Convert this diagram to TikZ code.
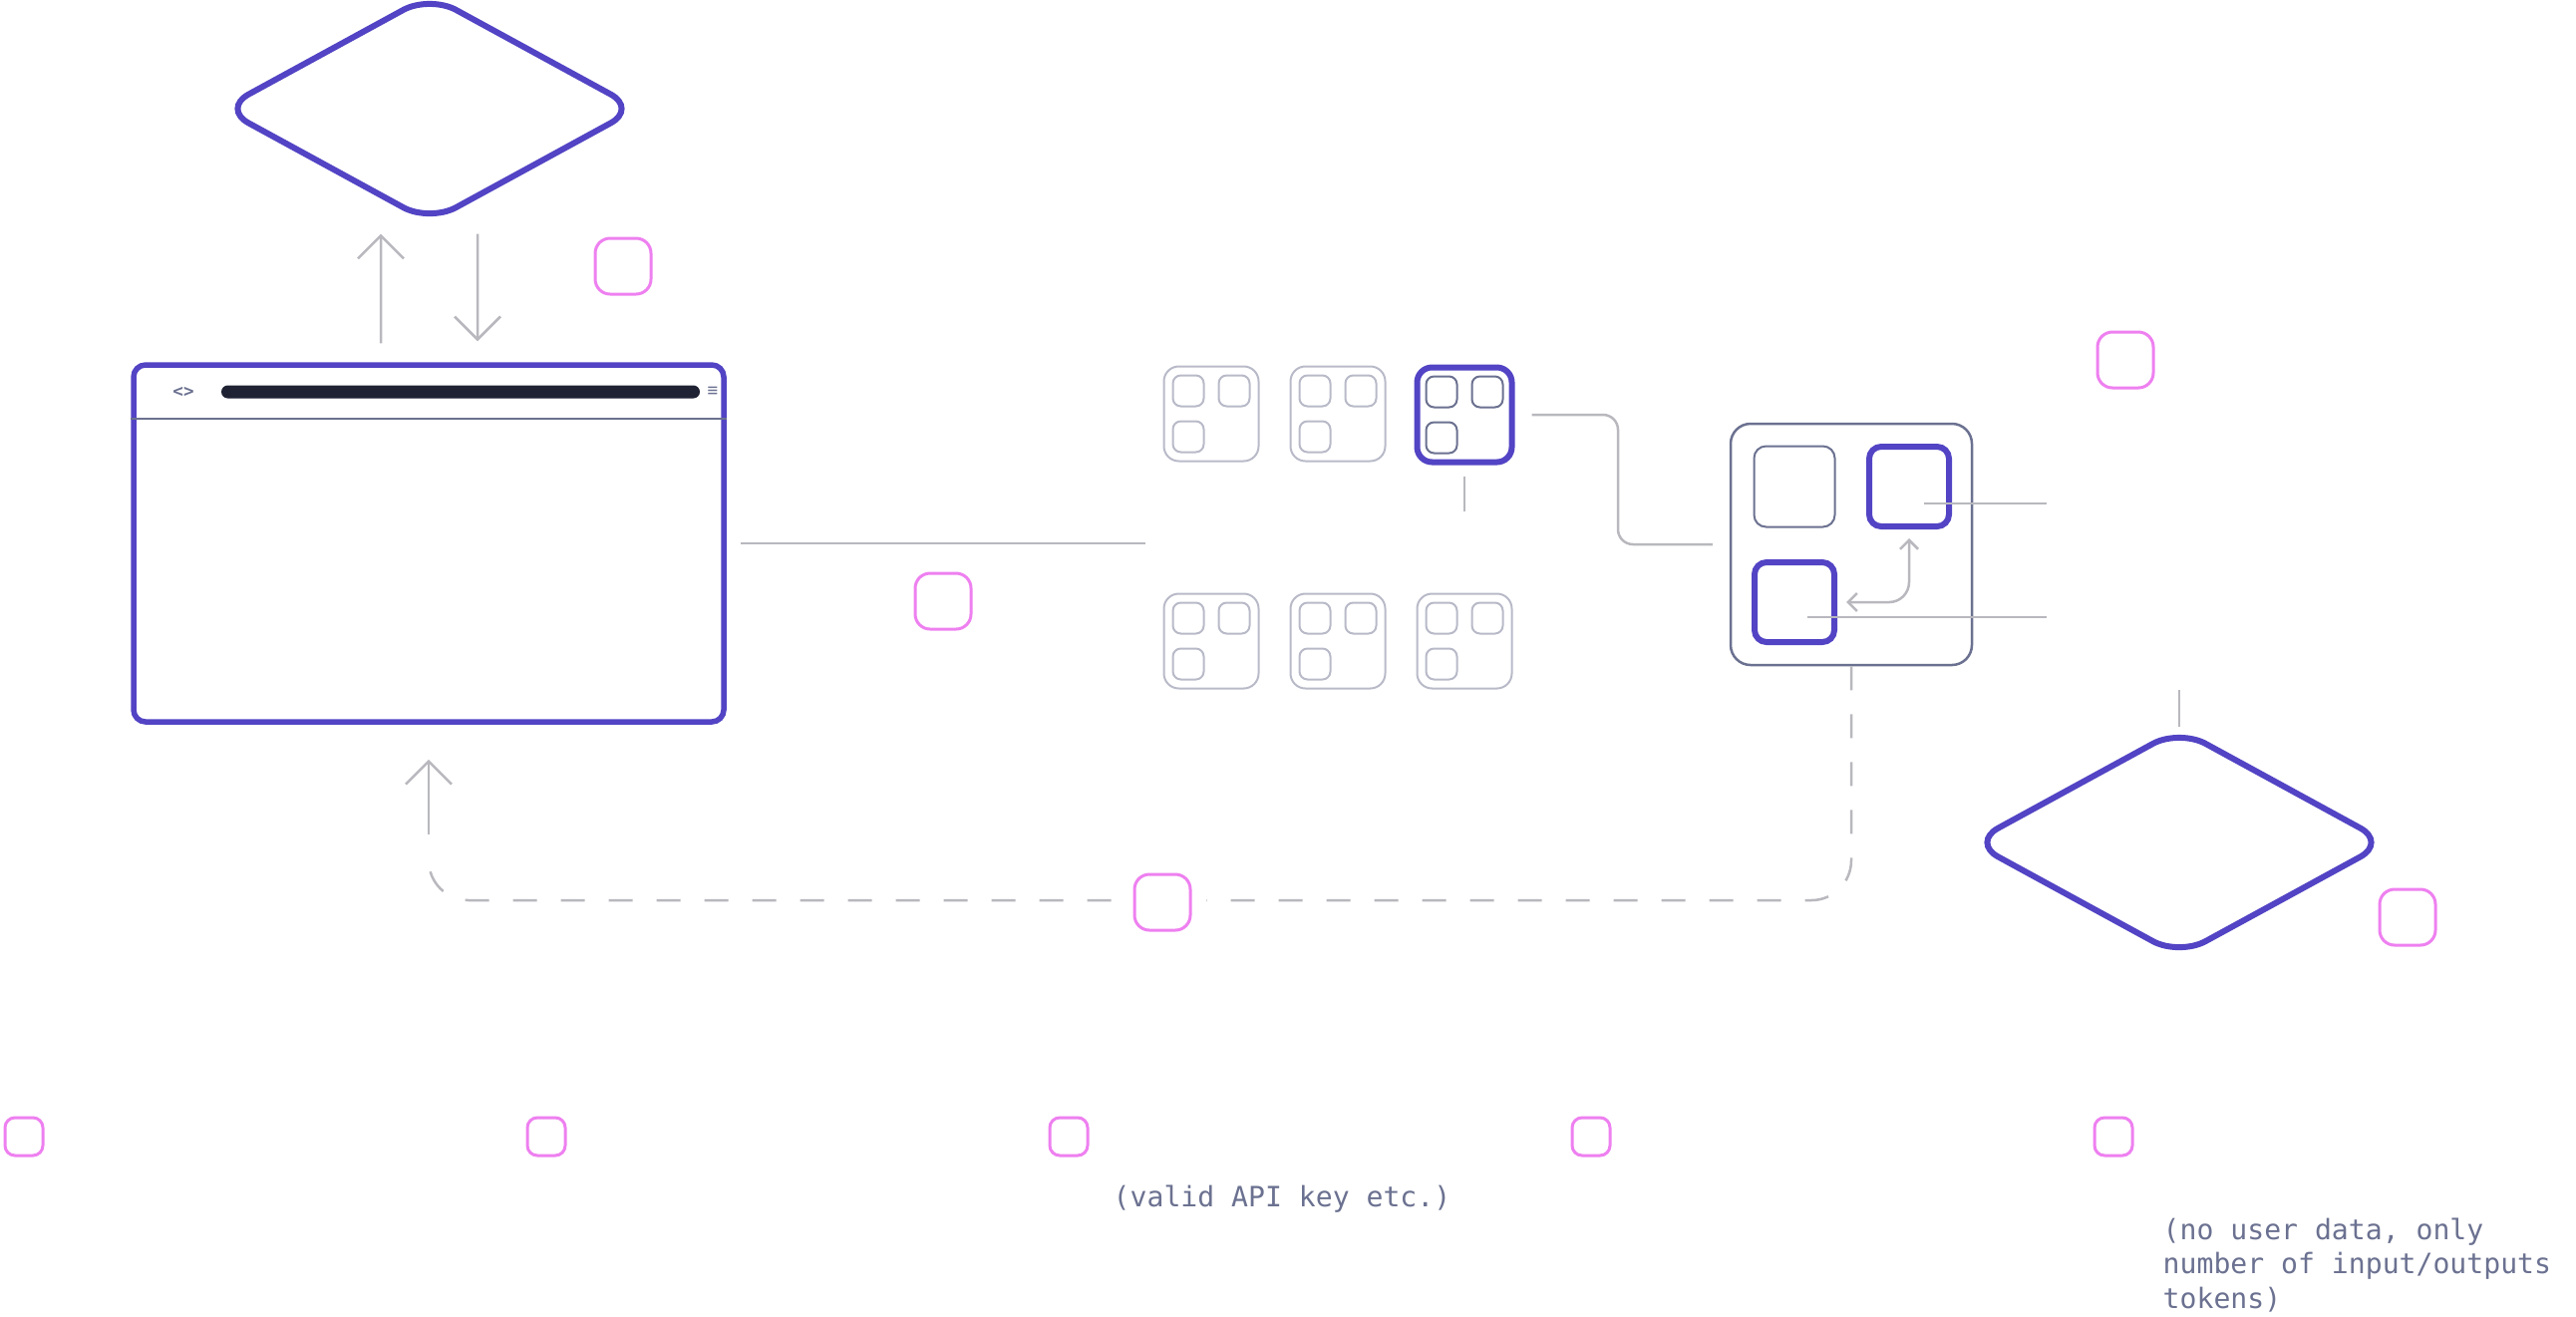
\documentclass[tikz,border=0pt]{standalone}
\usepackage{fontspec}
\setmonofont{DejaVu Sans Mono}
\usetikzlibrary{shapes.geometric,arrows.meta}
\definecolor{brand}{RGB}{82,68,196}
\definecolor{pink}{RGB}{238,128,240}
\definecolor{wire}{RGB}{184,184,190}
\definecolor{slate}{RGB}{107,113,144}
\definecolor{ink}{RGB}{31,34,51}
\definecolor{pale}{RGB}{184,186,200}

\begin{document}
\begin{tikzpicture}[x=0.1mm,y=-0.1mm,
	decision/.style={diamond,draw=brand,line width=0.6mm,minimum width=41.6mm,minimum height=22.7mm,
		inner sep=0pt,outer sep=0pt,rounded corners=3mm},
	window/.style={draw=brand,line width=0.55mm,rounded corners=1.2mm,minimum width=59.2mm,minimum height=35.8mm,inner sep=0pt},
	urlbar/.style={fill=ink,rounded corners=0.65mm,minimum width=48mm,minimum height=1.3mm,inner sep=0pt},
	pod/.style={draw=pale,line width=0.2mm,rounded corners=1.5mm,minimum size=9.5mm,inner sep=0pt},
	hotpod/.style={pod,draw=brand,line width=0.6mm},
	cell/.style={draw=pale,line width=0.2mm,rounded corners=0.8mm,minimum size=3.1mm,inner sep=0pt},
	hotcell/.style={cell,draw=slate},
	gateway/.style={draw=slate,line width=0.25mm,rounded corners=2mm,minimum size=24.2mm,inner sep=0pt},
	slot/.style={draw=slate,line width=0.2mm,rounded corners=1.2mm,minimum size=8.1mm,inner sep=0pt},
	hotslot/.style={slot,draw=brand,line width=0.6mm,minimum size=8mm},
	tag/.style={draw=pink,fill=white,line width=0.3mm,rounded corners=1.5mm,minimum size=5.6mm,inner sep=0pt},
	smalltag/.style={tag,rounded corners=1mm,minimum size=3.8mm},
	link/.style={draw=wire,line width=0.25mm},
	flow/.style={link,-{Straight Barb[length=2.3mm,width=4.6mm]}},
	backline/.style={link,dash pattern=on 2.4mm off 2.4mm,rounded corners=4mm},
	note/.style={text=slate,font=\ttfamily\fontsize{8}{9.8}\selectfont,inner sep=0pt}]
	\useasboundingbox (0,0) rectangle (2584,1320);
	% Top diamond and browser window
	\node[decision] (top) at (431,109) {};
	\node[window] (browser) at (430,545) {};
	\node[urlbar] (url) at (462,393) {};
	\node[text=slate,font=\ttfamily\bfseries\fontsize{5}{6}\selectfont,inner sep=0pt] (nav) at (184,393) {<>};
	\node[text=slate,font=\ttfamily\fontsize{5}{6}\selectfont,inner sep=0pt] (menu) at (715,393) {≡};
	\draw[slate,line width=0.18mm] ([yshift=-5.7mm]browser.north west) -- ([yshift=-5.7mm]browser.north east);
	\draw[flow] ([xshift=-4.8mm,yshift=1.9mm]browser.north) -- ([xshift=-4.9mm,yshift=-1.2mm]top.south);
	\draw[flow] ([xshift=4.8mm,yshift=-1.2mm]top.south) -- ([xshift=4.9mm,yshift=2.1mm]browser.north);
	\node[tag] (tagtop) at (625,267) {};
	% Server farm
	\foreach \col/\row in {0/0,1/0,0/1,1/1,2/1} {
		\node[pod] (pod-\col-\row) at (1215+127*\col,415+228*\row) {};
		\foreach \dx/\dy in {-23/-23,23/-23,-23/23}
			\node[cell] at ([shift={(\dx,\dy)}]pod-\col-\row.center) {};
	}
	\node[hotpod] (hot) at (1469,416) {};
	\foreach \dx/\dy in {-23/-23,23/-23,-23/23}
		\node[hotcell] at ([shift={(\dx,\dy)}]hot.center) {};
	\coordinate (farm) at (1149,545);
	\draw[link] ([xshift=1.4mm]browser.east) -- (farm);
	\node[tag] (tagfarm) at (946,603) {};
	\draw[link] ([yshift=-1.1mm]hot.south) -- ++(0,35);
	% Gateway
	\node[gateway] (gw) at (1857,546) {};
	\node[slot] (idle) at (1800,488) {};
	\node[hotslot] (ingest) at (1915,488) {};
	\node[hotslot] (egress) at (1800,604) {};
	\draw[link,rounded corners=1.5mm] ([xshift=1.7mm]hot.east) -| (1623,546) -- ([xshift=-1.7mm]gw.west);
	\draw[link,{Straight Barb[length=0.9mm,width=1.8mm]}-{Straight Barb[length=0.9mm,width=1.8mm]},rounded corners=2mm]
		([xshift=0.9mm]egress.east) -| ([yshift=-0.9mm]ingest.south);
	\coordinate (outA) at (2053,505);
	\coordinate (outB) at (2053,619);
	\draw[link] ([shift={(15,17)}]ingest.center) -- (outA);
	\draw[link] ([shift={(13,15)}]egress.center) -- (outB);
	\node[tag] (taggw) at (2132,361) {};
	% Bottom diamond
	\node[decision] (bottom) at (2186,845) {};
	\draw[link] ([yshift=0.3mm]bottom.north) -- ++(0,-37);
	\node[tag] (tagbottom) at (2415,920) {};
	% Return path
	\coordinate (back) at (430,837);
	\draw[backline] (gw.south) -- (1857,903) -- (430,903) -- ([yshift=-2mm]back);
	\draw[flow] (back) -- ([yshift=-3.5mm]browser.south);
	\node[tag,preaction={draw=white,line width=3.2mm}] (tagback) at (1166,905) {};
	% Footer
	\foreach \i in {0,...,4}
		\node[smalltag] (foot-\i) at (24+524*\i,1140) {};
	\node[note,anchor=base] (apikey) at (1286,1210) {(valid API key etc.)};
	\node[note,anchor=north west,align=left] (usage) at (2169,1221) {(no user data, only\\number of input/outputs\\tokens)};
\end{tikzpicture}
\end{document}
